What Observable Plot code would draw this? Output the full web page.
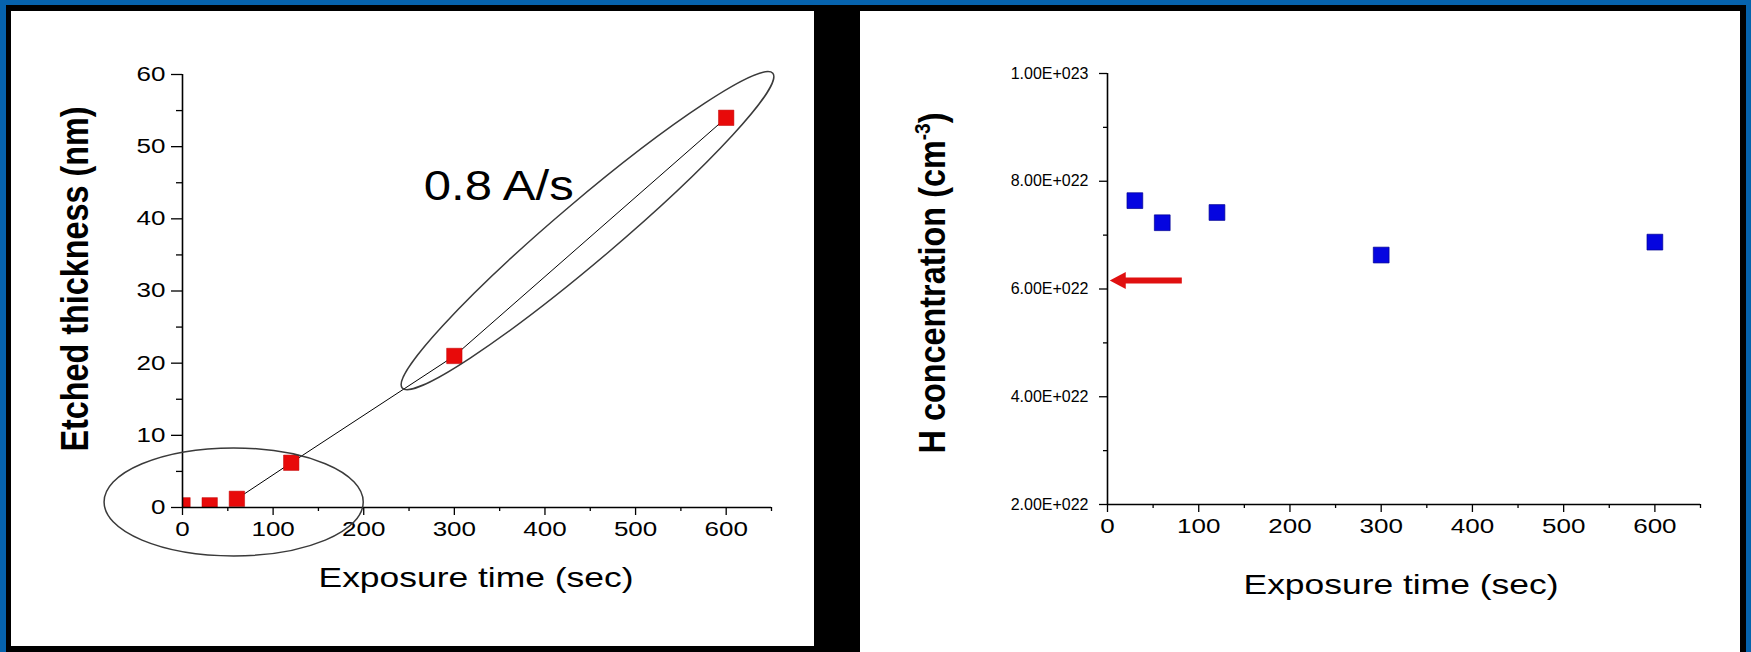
<!DOCTYPE html>
<html><head><meta charset="utf-8">
<script src="https://cdn.jsdelivr.net/npm/d3@7"></script>
<script src="https://cdn.jsdelivr.net/npm/@observablehq/plot@0.6"></script>
<style>
html,body{margin:0;padding:0;}
body{width:1751px;height:652px;background:#0663ad;position:relative;overflow:hidden;font-family:"Liberation Sans",Arial,sans-serif;}
#frame{position:absolute;left:6px;top:5px;width:1740px;height:647px;background:#000;}
.panel{position:absolute;background:#fff;}
#left{left:11px;top:11px;width:803px;height:635px;}
#right{left:860px;top:11px;width:880px;height:641px;}
svg{overflow:visible;}
</style></head>
<body><div id="frame"></div><div id="left" class="panel"></div><div id="right" class="panel"></div>
<script>
// ---- data ----
const exposureTime = [0, 30, 60, 120, 300, 600];
const etchedThickness = [0.3, 0.3, 1.2, 6.2, 21.0, 54.0];
const lineTime = [60, 120, 300, 600];
const lineThickness = [1.2, 6.2, 21.0, 54.0];
const rateLabel = ["0.8 A/s"];
const rateLabelPos = [349, 44.5];

const hTime = [30, 60, 120, 300, 600];
const hConcentration = [7.64e22, 7.23e22, 7.42e22, 6.63e22, 6.87e22];
const arrowY = 6.15e22;
const arrowFromX = 82;
const arrowToX = 3;

// ellipse annotations: major-axis end points in data units
const ellipseLowEnds = [[-86, 0.7], [200, 0.7]];
const ellipseHighEnds = [[243, 16.5], [652, 60.1]];

const xMajorTicks = [0, 100, 200, 300, 400, 500, 600];
const xMinorTicks = [50, 150, 250, 350, 450, 550, 650];
const leftYMajor = [0, 10, 20, 30, 40, 50, 60];
const leftYMinor = [5, 15, 25, 35, 45, 55];
const rightYMajor = [2e22, 4e22, 6e22, 8e22, 1e23];
const rightYLabels = ["2.00E+022", "4.00E+022", "6.00E+022", "8.00E+022", "1.00E+023"];
const rightYMinor = [3e22, 5e22, 7e22, 9e22];

const xTitle = "Exposure time (sec)";
const leftYTitle = "Etched thickness (nm)";
const rightYTitle = "H concentration (cm-3)";

const SVGNS = "http://www.w3.org/2000/svg";

function ellipseMark(ends, halfWidth) {
  return (index, scales) => {
    const X1 = scales.x(ends[0][0]), Y1 = scales.y(ends[0][1]);
    const X2 = scales.x(ends[1][0]), Y2 = scales.y(ends[1][1]);
    const cx = (X1 + X2) / 2, cy = (Y1 + Y2) / 2;
    const a = Math.hypot(X2 - X1, Y2 - Y1) / 2;
    const ang = Math.atan2(Y2 - Y1, X2 - X1) * 180 / Math.PI;
    const el = document.createElementNS(SVGNS, "ellipse");
    el.setAttribute("cx", cx); el.setAttribute("cy", cy);
    el.setAttribute("rx", a); el.setAttribute("ry", halfWidth);
    el.setAttribute("transform", `rotate(${ang} ${cx} ${cy})`);
    el.setAttribute("fill", "none");
    el.setAttribute("stroke", "#3a3a3a");
    el.setAttribute("stroke-width", 1.5);
    return el;
  };
}

function arrowMark() {
  return (index, scales) => {
    const y = scales.y(arrowY);
    const x0 = scales.x(arrowFromX), x1 = scales.x(arrowToX);
    const g = document.createElementNS(SVGNS, "g");
    const shaft = document.createElementNS(SVGNS, "line");
    shaft.setAttribute("x1", x0); shaft.setAttribute("x2", x1 + 14);
    shaft.setAttribute("y1", y); shaft.setAttribute("y2", y);
    shaft.setAttribute("stroke", "#e01010"); shaft.setAttribute("stroke-width", 6);
    const head = document.createElementNS(SVGNS, "polygon");
    head.setAttribute("points", `${x1},${y} ${x1 + 16},${y - 8.5} ${x1 + 16},${y + 8.5}`);
    head.setAttribute("fill", "#e01010");
    g.appendChild(shaft); g.appendChild(head);
    return g;
  };
}

const leftData = exposureTime.map((t, i) => ({t, v: etchedThickness[i]}));
const lineData = lineTime.map((t, i) => ({t, v: lineThickness[i]}));
const rightData = hTime.map((t, i) => ({t, v: hConcentration[i]}));

const common = {
  style: {background: "transparent", color: "#000", fontFamily: "'Liberation Sans', Arial, sans-serif", fontSize: "20px", overflow: "visible"}
};

const leftPlot = Plot.plot({
  ...common,
  width: 803, height: 635,
  marginLeft: 171, marginRight: 43, marginTop: 63, marginBottom: 139,
  x: {domain: [0, 650]},
  y: {domain: [0, 60]},
  marks: [
    Plot.axisY({ticks: leftYMinor, tickSize: 6, tickFormat: () => "", label: null, strokeWidth: 1.3}),
    Plot.axisY({ticks: leftYMajor, tickSize: 11, tickPadding: 6, label: null, fontSize: 20, tickFormat: d => String(d), strokeWidth: 1.3}),
    Plot.axisX({ticks: xMinorTicks, tickSize: 4, tickFormat: () => "", label: null, strokeWidth: 1.3}),
    Plot.axisX({ticks: xMajorTicks, tickSize: 8, tickPadding: 6, label: null, fontSize: 20, tickFormat: d => String(d), strokeWidth: 1.3}),
    Plot.line(lineData, {x: "t", y: "v", stroke: "#000", strokeWidth: 1}),
    Plot.dot(leftData, {x: "t", y: "v", symbol: "square", r: 8.7, fill: "#e80a0a", stroke: "#c00000", strokeWidth: 0.5, clip: true}),
    Plot.ruleX([0], {strokeWidth: 1.6}),
    Plot.ruleY([0], {strokeWidth: 1.6}),
    ellipseMark(ellipseLowEnds, 54),
    ellipseMark(ellipseHighEnds, 30),
    Plot.text(rateLabel, {x: rateLabelPos[0], y: rateLabelPos[1], text: d => d, fontSize: 43, textAnchor: "middle", lineAnchor: "middle"}),
    Plot.text([leftYTitle], {frameAnchor: "left", text: d => d, rotate: -90, dx: -107, dy: -12, fontSize: 39, fontWeight: "bold", textAnchor: "middle", lineAnchor: "middle"}),
    Plot.text([xTitle], {frameAnchor: "bottom", text: d => d, dx: -1, dy: 71, fontSize: 28, textAnchor: "middle", lineAnchor: "middle"})
  ]
});

const rightPlot = Plot.plot({
  ...common,
  width: 880, height: 641,
  marginLeft: 247, marginRight: 40, marginTop: 62, marginBottom: 148,
  x: {domain: [0, 650]},
  y: {domain: [2e22, 1e23]},
  marks: [
    Plot.axisY({ticks: rightYMinor, tickSize: 4, tickFormat: () => "", label: null, strokeWidth: 1.3}),
    Plot.axisY({ticks: rightYMajor, tickSize: 8, tickPadding: 11, label: null, fontSize: 16, tickFormat: d => rightYLabels[rightYMajor.indexOf(d)], strokeWidth: 1.3}),
    Plot.axisX({ticks: xMinorTicks, tickSize: 4, tickFormat: () => "", label: null, strokeWidth: 1.3}),
    Plot.axisX({ticks: xMajorTicks, tickSize: 8, tickPadding: 6, label: null, fontSize: 20, tickFormat: d => String(d), strokeWidth: 1.3}),
    Plot.ruleX([0], {strokeWidth: 1.6}),
    Plot.ruleY([2e22], {strokeWidth: 1.6}),
    Plot.dot(rightData, {x: "t", y: "v", symbol: "square", r: 8.9, fill: "#0505e0", stroke: "#000090", strokeWidth: 0.7}),
    arrowMark(),
    Plot.text([rightYTitle], {frameAnchor: "left", text: d => d, rotate: -90, dx: -174, dy: -6, fontSize: 37.4, fontWeight: "bold", textAnchor: "middle", lineAnchor: "middle"}),
    Plot.text([xTitle], {frameAnchor: "bottom", text: d => d, dx: -3, dy: 81, fontSize: 28, textAnchor: "middle", lineAnchor: "middle"})
  ]
});

document.getElementById("left").appendChild(leftPlot);
document.getElementById("right").appendChild(rightPlot);

function fit(el, len) {
  el.setAttribute("textLength", len);
  el.setAttribute("lengthAdjust", "spacingAndGlyphs");
}
function stretch(el, f) {
  const w = el.getComputedTextLength();
  if (w > 0) fit(el, w * f);
}

for (const svg of [leftPlot, rightPlot]) {
  for (const t of svg.querySelectorAll("text")) {
    const s = t.textContent;
    if (s === xTitle) fit(t, 315);
    else if (s === leftYTitle) fit(t, 345);
    else if (s === rateLabel[0]) fit(t, 150);
    else if (s === rightYTitle) {
      t.textContent = "";
      const a = document.createElementNS(SVGNS, "tspan"); a.textContent = "H concentration (cm";
      const b = document.createElementNS(SVGNS, "tspan"); b.textContent = "-3";
      b.setAttribute("font-size", 22); b.setAttribute("dy", -15);
      const c = document.createElementNS(SVGNS, "tspan"); c.textContent = ")"; c.setAttribute("dy", 15);
      t.appendChild(a); t.appendChild(b); t.appendChild(c);
      fit(t, 341);
    } else if (/^\d+$/.test(s)) stretch(t, 1.3);
  }
}
</script>
</body></html>
